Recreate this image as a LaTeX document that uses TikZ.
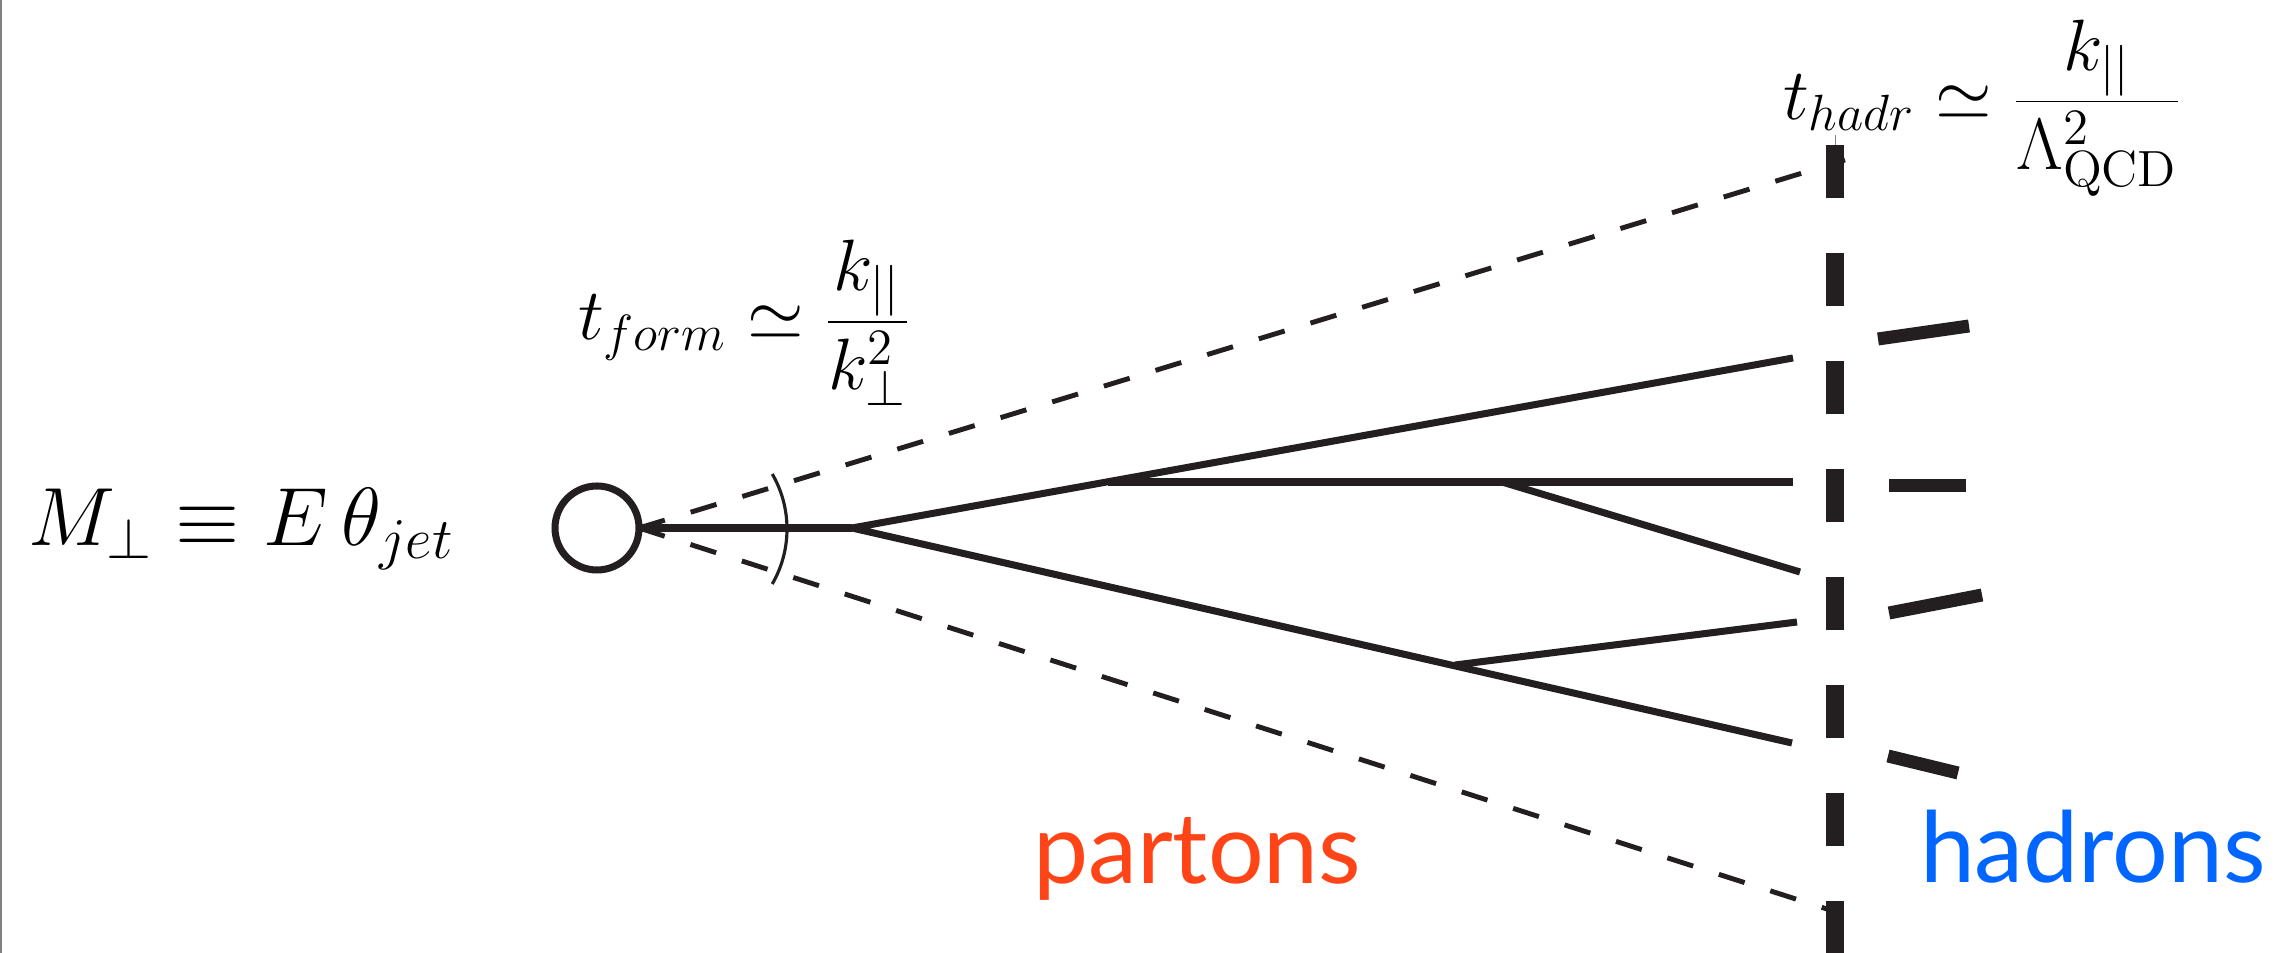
\RequirePackage{fix-cm}
\documentclass[tikz,border=0pt]{standalone}
\usepackage{fontspec}
\usepackage{xcolor}
\usepackage{tikz}
\usetikzlibrary{arrows.meta, positioning, calc}
\newfontfamily\gillfont{Lato}
\definecolor{inkblack}{RGB}{35, 31, 32}
\definecolor{partonred}{RGB}{255, 69, 23}
\definecolor{hadronblue}{RGB}{0, 102, 255}

\begin{document}
\begin{tikzpicture}[
    every node/.style={inner sep=0pt, outer sep=0pt},
    parton/.style={draw=inkblack, line width=2pt},
    cone/.style={draw=inkblack, line width=1.4pt, dash pattern=on 0.27cm off 0.27cm},
    hadron/.style={draw=inkblack, line width=3.7pt},
    screen/.style={draw=inkblack, line width=5.1pt, dash pattern=on 0.535cm off 0.545cm},
    formula/.style={anchor=base west, font=\fontsize{20.7}{25}\selectfont},
    species/.style={anchor=base west, font=\gillfont\fontsize{28}{32}\selectfont}
]
\useasboundingbox (0,0) rectangle (22.81,9.53);
\draw[gray, line width=0.6pt] (0.01,0) -- (0.01,9.53);

\node[circle, draw=inkblack, line width=2pt, minimum size=0.84cm] (blob) at (5.97,4.25) {};
\node[formula, font=\fontsize{23.5}{28}\selectfont] (mass) at (0.28,4.07) {$M_\perp\equiv E\,\theta_{jet}$};
\node[formula] (tform) at (5.78,6.13) {$t_{form}\simeq\displaystyle\frac{k_{||}}{k_\perp^2}$};
\node[formula] (thadr) at (17.83,8.33) {$t_{hadr}\simeq\displaystyle\frac{k_{||}}{\Lambda^2_{\mathrm{QCD}}}$};
\node[species, text=partonred] (partons) at (10.33,0.69) {partons};
\node[species, text=hadronblue] (hadrons) at (19.20,0.70) {hadrons};

\coordinate (v0) at (8.52,4.25);
\coordinate (v1) at (11.08,4.71);
\coordinate (v2) at (15.02,4.71);
\coordinate (v3) at (14.55,2.88);
\coordinate (p1) at (17.93,5.95);
\coordinate (p2) at (17.93,4.71);
\coordinate (p3) at (18.00,3.81);
\coordinate (p4) at (17.97,3.31);
\coordinate (p5) at (17.92,2.10);
\coordinate (ctop) at (18.45,7.93);
\coordinate (cbot) at (18.30,0.43);
\coordinate (arcc) at (6.77,4.24);
\coordinate (stop) at (18.35,8.08);
\coordinate (sbot) at (18.35,0);

\draw[parton] (v0) -- (blob.east);
\draw[parton] (p1) -- (v0) -- (p5);
\draw[parton] (v1) -- (p2);
\draw[parton] (v2) -- (p3);
\draw[parton] (v3) -- (p4);
\draw[cone] (blob.east) -- (ctop);
\draw[cone] (blob.east) -- (cbot);
\draw[inkblack, line width=0.9pt] ($(arcc)+(-30:1.1)$) arc[start angle=-30, end angle=30, radius=1.1];
\draw[screen] (stop) -- (sbot);
\draw[gray, line width=0.3pt] (stop) -- ++(0,0.1);
\foreach \a/\b in {{18.78,6.14}/{19.69,6.27}, {18.89,4.67}/{19.66,4.67}, {18.89,3.40}/{19.82,3.58}, {18.88,1.97}/{19.58,1.80}}
    \draw[hadron] (\a) -- (\b);
\end{tikzpicture}
\end{document}
